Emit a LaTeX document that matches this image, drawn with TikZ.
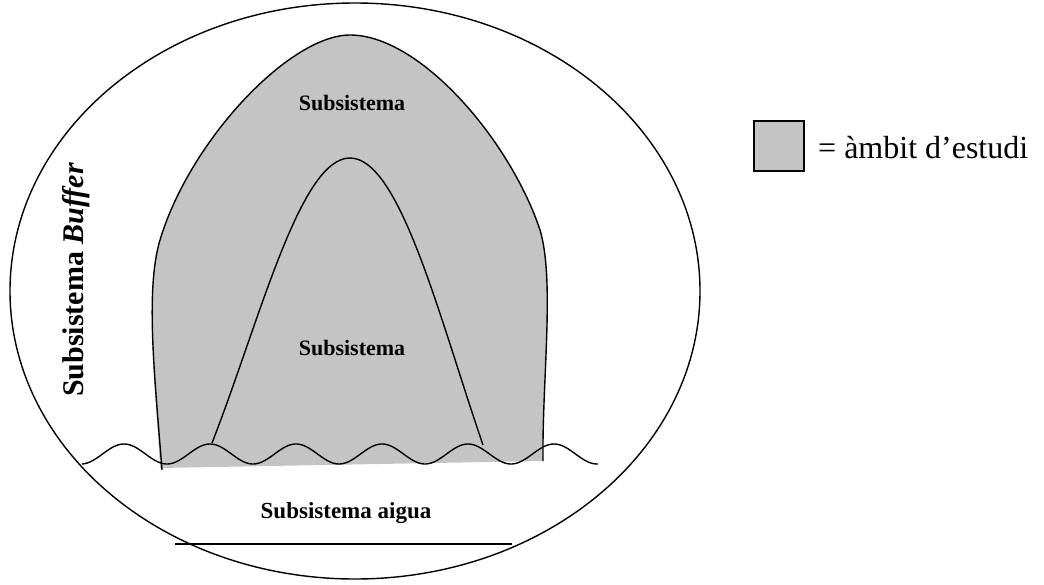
\documentclass[tikz,border=0pt]{standalone}
\usepackage{fontspec}
\setmainfont{Liberation Serif}
\begin{document}
\begin{tikzpicture}[x=1pt,y=-1pt,
  lbl/.style={font=\fontsize{22}{25}\selectfont\bfseries, inner sep=0pt},
  shaded/.style={fill=black!23},
  outl/.style={draw=black, line width=1.4pt}]
\useasboundingbox (0,0) rectangle (1044,584);
% shaded study area
\fill[shaded] (160,468) .. controls (155,380) and (145,290) .. (160,240)
  .. controls (190,140) and (290,35) .. (350,35)
  .. controls (420,35) and (510,140) .. (540,230)
  .. controls (555,280) and (542,380) .. (543,461) -- cycle;
\draw[outl] (162,470) .. controls (155,380) and (145,290) .. (160,240)
  .. controls (190,140) and (290,35) .. (350,35)
  .. controls (420,35) and (510,140) .. (540,230)
  .. controls (555,280) and (542,380) .. (543,461);
% inner arch
\draw[outl] (212,443) .. controls (260,320) and (300,158) .. (350,158)
  .. controls (400,158) and (440,320) .. (483,445);
% wave
\draw[outl] plot[domain=82:598, samples=260, smooth] (\x, {454 - 10*cos(4.186*(\x-124))});
% outer ellipse
\draw[outl] (355,291) ellipse [x radius=345, y radius=288];
% bottom line
\coordinate (bl) at (175,544);
\coordinate (br) at (512,544);
\draw[outl] (bl) -- (br);
% labels
\node[lbl] (s1) at (352,103) {Subsistema};
\node[lbl] (s2) at (352,348) {Subsistema};
\node[lbl, font=\fontsize{23}{26}\selectfont\bfseries] (sa) at (346,513) {Subsistema aigua};
\node[lbl, font=\fontsize{30}{33}\selectfont\bfseries, rotate=90] (sb) at (76,280) {Subsistema \textit{Buffer}};
% legend
\node[shaded, draw=black, line width=1.4pt, minimum width=50pt, minimum height=50pt, inner sep=0pt] (leg) at (779,146) {};
\node[anchor=west, font=\fontsize{32}{35}\selectfont, inner sep=0pt] (legt) at (818,148) {= àmbit d’estudi};
\end{tikzpicture}
\end{document}
